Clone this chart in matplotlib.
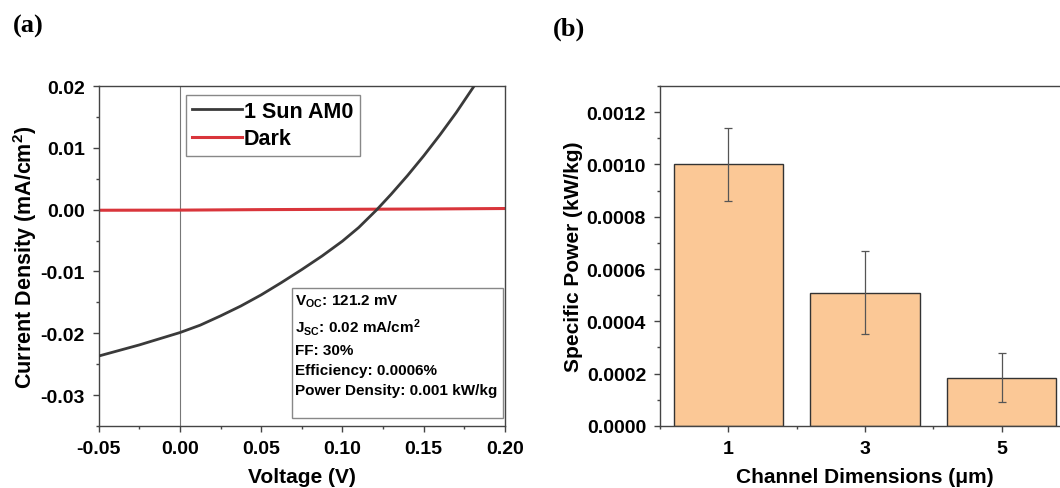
import matplotlib
matplotlib.use("Agg")
import matplotlib.pyplot as plt
from matplotlib.patches import Rectangle
from matplotlib.ticker import MultipleLocator, FormatStrFormatter

plt.rcParams['font.family'] = 'Liberation Sans'
plt.rcParams['font.weight'] = 'bold'
plt.rcParams['mathtext.fontset'] = 'custom'
plt.rcParams['mathtext.rm'] = 'Liberation Sans:bold'
plt.rcParams['mathtext.it'] = 'Liberation Sans:bold'
plt.rcParams['mathtext.bf'] = 'Liberation Sans:bold'
plt.rcParams['mathtext.sf'] = 'Liberation Sans:bold'

#------------ DATA ------------------------------------------
voltage_light = [-0.05, -0.0375, -0.025, -0.0125, 0.0, 0.0125, 0.025, 0.0375, 0.05, 0.0625, 0.075,
                 0.0875, 0.10, 0.11, 0.1212, 0.13, 0.14, 0.15, 0.16, 0.17, 0.181]
current_light = [-0.0237, -0.0228, -0.0219, -0.0209, -0.0199, -0.0187, -0.0172, -0.0156, -0.0138, -0.0118, -0.0097,
                 -0.0075, -0.0051, -0.0029, 0.0, 0.0025, 0.0055, 0.0087, 0.0121, 0.0157, 0.0200]
voltage_dark = [-0.05, 0.0, 0.05, 0.10, 0.15, 0.20]
current_dark = [-0.0001, -0.00008, 0.0, 0.00005, 0.0001, 0.00018]
series_labels = ["1 Sun AM0", "Dark"]
info_lines = [r"V$_{OC}$: 121.2 mV", r"J$_{SC}$: 0.02 mA/cm$^2$", "FF: 30%",
              "Efficiency: 0.0006%", "Power Density: 0.001 kW/kg"]

channel_dims = [1, 3, 5]
specific_power = [0.00100, 0.00051, 0.000185]
specific_power_err = [0.000138, 0.00016, 0.000093]

axis_col = "#444444"

fig = plt.figure(figsize=(10.6, 4.89), dpi=100)

#------------ PANEL (a) --------------------
ax1 = fig.add_axes([0.093, 0.127, 0.3834, 0.695])
ax1.axvline(0, color="#777777", lw=0.8, zorder=1)
ax1.plot(voltage_light, current_light, color="#3a3a3a", lw=2.0, label=series_labels[0], zorder=3)
ax1.plot(voltage_dark, current_dark, color="#d9353b", lw=2.2, label=series_labels[1], zorder=2)
ax1.set_xlim(-0.05, 0.20)
ax1.set_ylim(-0.035, 0.02)
ax1.xaxis.set_major_locator(MultipleLocator(0.05))
ax1.xaxis.set_minor_locator(MultipleLocator(0.025))
ax1.yaxis.set_major_locator(MultipleLocator(0.01))
ax1.yaxis.set_minor_locator(MultipleLocator(0.005))
ax1.xaxis.set_major_formatter(FormatStrFormatter("%.2f"))
ax1.yaxis.set_major_formatter(FormatStrFormatter("%.2f"))
ax1.set_xlabel("Voltage (V)", fontsize=15, fontweight="bold", labelpad=7)
ax1.set_ylabel("Current Density (mA/cm$^2$)", fontsize=15.5, fontweight="bold", labelpad=1)
leg = ax1.legend(loc="upper left", bbox_to_anchor=(0.215, 0.975), borderaxespad=0, fontsize=15.5,
                 fancybox=False, framealpha=1, edgecolor="#888888", handlelength=2.3,
                 handletextpad=0.1, labelspacing=0.3, borderpad=0.3)
leg.get_frame().set_linewidth(1.0)
ax1.add_patch(Rectangle((0.476, 0.024), 0.519, 0.383, transform=ax1.transAxes,
                        facecolor="white", edgecolor="#888888", lw=1.0, zorder=4))
info_y = [0.367, 0.292, 0.222, 0.164, 0.107]
for line, yy in zip(info_lines, info_y):
    ax1.text(0.483, yy, line, transform=ax1.transAxes, fontsize=11, fontweight="bold",
             va="center", ha="left", zorder=5)

#------------ PANEL (b) --------------------
ax2 = fig.add_axes([0.6226, 0.127, 0.3868, 0.695])
ax2.bar(channel_dims, specific_power, width=1.6, color="#fbc896", edgecolor="#333333", lw=1.0, zorder=2)
ax2.errorbar(channel_dims, specific_power, yerr=specific_power_err, fmt="none", ecolor="#555555",
             elinewidth=0.9, capsize=3, capthick=0.9, zorder=3)
ax2.set_xlim(0, 6)
ax2.set_ylim(0, 0.0013)
ax2.set_xticks(channel_dims)
ax2.xaxis.set_minor_locator(MultipleLocator(1))
ax2.yaxis.set_major_locator(MultipleLocator(0.0002))
ax2.yaxis.set_minor_locator(MultipleLocator(0.0001))
ax2.yaxis.set_major_formatter(FormatStrFormatter("%.4f"))
ax2.set_xlabel("Channel Dimensions (\u03bcm)", fontsize=15, fontweight="bold", labelpad=7)
ax2.set_ylabel("Specific Power (kW/kg)", fontsize=15, fontweight="bold", labelpad=3)

for ax in (ax1, ax2):
    for sp in ax.spines.values():
        sp.set_color(axis_col)
        sp.set_linewidth(1.0)
    ax.tick_params(which="major", direction="out", length=4, width=1, color=axis_col,
                   labelsize=14, pad=6)
    ax.tick_params(which="minor", direction="out", length=2.5, width=1, color=axis_col)
    for lab in ax.get_xticklabels() + ax.get_yticklabels():
        lab.set_fontweight("bold")

fig.text(0.012, 0.945, "(a)", family="Liberation Serif", fontsize=19, fontweight="bold", va="center")
fig.text(0.522, 0.94, "(b)", family="Liberation Serif", fontsize=19, fontweight="bold", va="center")

fig.savefig("out.png", dpi=100)
